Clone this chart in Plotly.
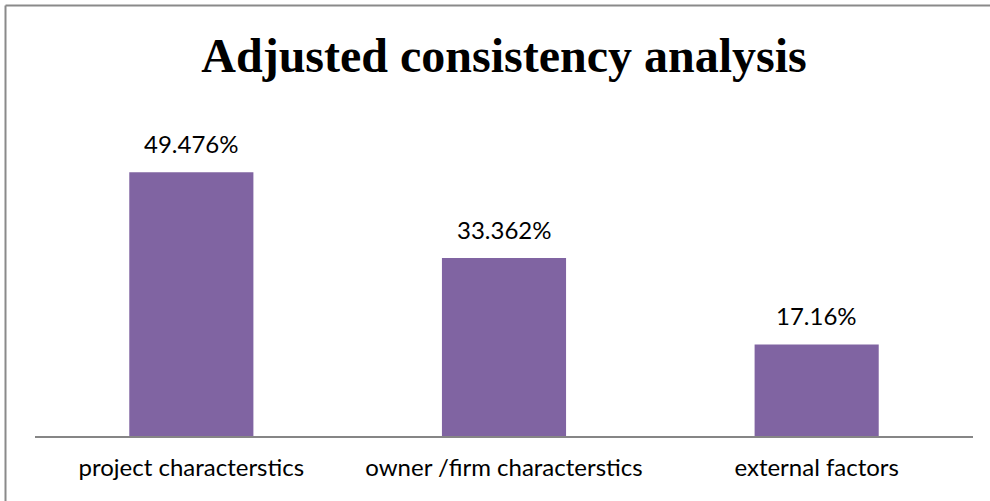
import plotly.graph_objects as go

categories = ["project characterstics", "owner /firm characterstics", "external factors"]
values = [49.476, 33.362, 17.16]
labels = ["49.476%", "33.362%", "17.16%"]

fig = go.Figure()
fig.add_trace(go.Bar(
    x=categories, y=values,
    marker=dict(color="#8064A2", line=dict(width=0)),
    width=0.397,
    hoverinfo="skip",
))

for c, v, t in zip(categories, values, labels):
    fig.add_annotation(x=c, y=v, text=t, showarrow=False, yanchor="bottom",
                       yshift=12, font=dict(family="Lato, Open Sans, sans-serif", size=24, color="#000"))

fig.update_layout(
    width=990, height=501,
    margin=dict(l=35, r=17, t=116, b=65),
    paper_bgcolor="white", plot_bgcolor="white",
    showlegend=False,
    title=dict(text="<b>Adjusted consistency analysis</b>", x=0.5, xref="paper", xanchor="center",
               y=1 - 55 / 501, yref="container", yanchor="middle",
               font=dict(family="Liberation Serif, Times New Roman, serif", size=48, color="#000")),
    xaxis=dict(showline=True, linecolor="#868686", linewidth=1.5, ticks="", showgrid=False,
               tickfont=dict(family="Lato, Open Sans, sans-serif", size=24, color="#000"),
               ticklabelstandoff=9, zeroline=False),
    yaxis=dict(range=[0, 60], visible=False, showgrid=False, zeroline=False),
)

# outer chart border (top and left visible)
fig.add_shape(type="line", xref="paper", yref="paper",
              x0=(5.5 - 35) / 938, x1=(990 - 35) / 938,
              y0=1 + (116 - 5.5) / 320, y1=1 + (116 - 5.5) / 320,
              line=dict(color="#8a8a8a", width=2))
fig.add_shape(type="line", xref="paper", yref="paper",
              x0=(5.5 - 35) / 938, x1=(5.5 - 35) / 938,
              y0=1 + (116 - 5.5) / 320, y1=-(80) / 320,
              line=dict(color="#8a8a8a", width=2))

fig.write_html("out.html")
